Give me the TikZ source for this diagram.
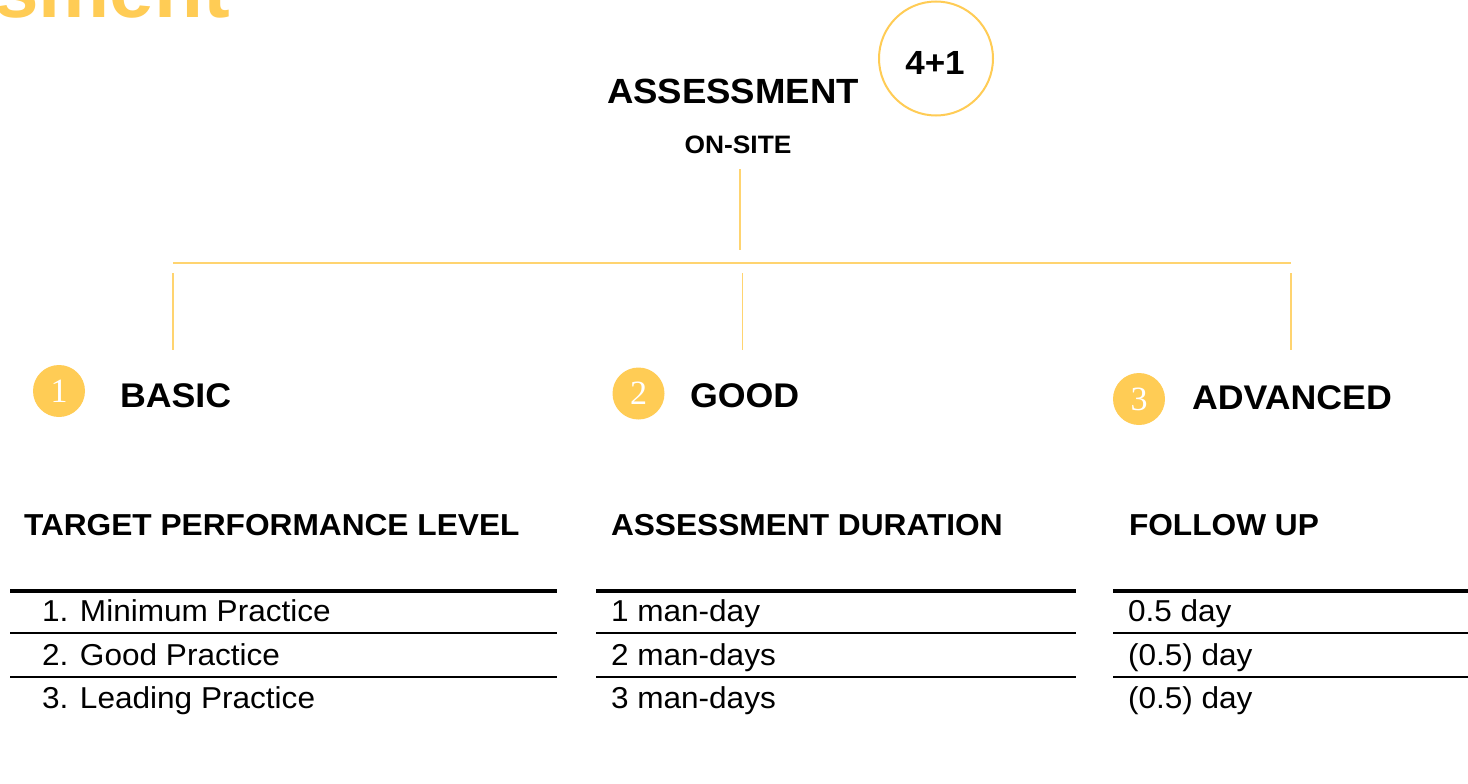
\documentclass[tikz,border=0pt]{standalone}
\usepackage{fontspec}
\setmainfont{Liberation Sans}[FakeStretch=1.045]
\newfontfamily\plainsans{Liberation Sans}
\newfontfamily\numserif{Liberation Serif}
\definecolor{gold}{HTML}{FFCC55}
\definecolor{linegold}{HTML}{FFD470}
\tikzset{
  txt/.style={inner sep=0pt, outer sep=0pt, text=black},
  bigtitle/.style={txt, text=gold, font=\plainsans\bfseries\fontsize{80}{90}\selectfont},
  mainlbl/.style={txt, font=\bfseries\fontsize{35}{42}\selectfont},
  badgelbl/.style={txt, font=\bfseries\fontsize{33.5}{40}\selectfont},
  sublbl/.style={txt, font=\bfseries\fontsize{25.2}{30}\selectfont},
  levellbl/.style={txt, font=\bfseries\fontsize{34.2}{40}\selectfont},
  hdrlbl/.style={txt, font=\bfseries\fontsize{30.3}{36}\selectfont},
  rowlbl/.style={txt, font=\fontsize{30.2}{36}\selectfont},
  numdot/.style={circle, fill=gold, minimum size=52pt, inner sep=0pt},
  numtxt/.style={txt, text=white, font=\numserif\fontsize{34}{34}\selectfont},
  conn/.style={draw=linegold, line width=1.5pt},
  rulethick/.style={draw=black, line width=3.5pt},
  rulethin/.style={draw=black, line width=2pt}
}
\begin{document}
\begin{tikzpicture}[x=1pt,y=-1pt]
\useasboundingbox (0,0) rectangle (1468,784);
\clip (0,0) rectangle (1468,784);
\fill[white] (0,0) rectangle (1468,784);

% cut-off title
\node[bigtitle, anchor=base east] (title) at (230,17.5) {Assessment};

% top
\node[mainlbl, anchor=base west] (assess) at (607,103) {ASSESSMENT};
\node[sublbl, anchor=base] (onsite) at (738,153) {ON-SITE};
\node[circle, draw=gold, line width=2pt, minimum size=114pt, inner sep=0pt] (badge) at (936,58.5) {};
\node[badgelbl] (badgetxt) at (935,62.5) {4+1};

% tree connectors
\coordinate (stemtop) at (740,169);
\coordinate (stembot) at (740,250);
\coordinate (barL) at (173,263);
\coordinate (barR) at (1291,263);
\coordinate (b1top) at (173,273);
\coordinate (b1bot) at (173,350);
\coordinate (b2top) at (742.5,273);
\coordinate (b2bot) at (742.5,350);
\coordinate (b3top) at (1291,273);
\coordinate (b3bot) at (1291,350);
\draw[conn] (stemtop) -- (stembot);
\draw[conn] (barL) -- (barR);
\draw[conn] (b1top) -- (b1bot);
\draw[conn] (b2top) -- (b2bot);
\draw[conn] (b3top) -- (b3bot);

% levels
\node[numdot] (n1) at (59,391) {};
\node[numtxt] (n1t) at (n1) {1};
\node[levellbl, anchor=base west] (basic) at (120,407.5) {BASIC};
\node[numdot] (n2) at (638.5,393.5) {};
\node[numtxt] (n2t) at (n2) {2};
\node[levellbl, anchor=base west] (good) at (690,407.5) {GOOD};
\node[numdot] (n3) at (1139,399) {};
\node[numtxt] (n3t) at (n3) {3};
\node[levellbl, anchor=base west] (adv) at (1192,409.5) {ADVANCED};

% headers
\node[hdrlbl, anchor=base west] (h1) at (24,535.5) {TARGET PERFORMANCE LEVEL};
\node[hdrlbl, anchor=base west] (h2) at (611,535.5) {ASSESSMENT DURATION};
\node[hdrlbl, anchor=base west] (h3) at (1129,535.5) {FOLLOW UP};

% table rules
\coordinate (L0a) at (10,591);   \coordinate (L0b) at (557,591);
\coordinate (L1a) at (10,633);   \coordinate (L1b) at (557,633);
\coordinate (L2a) at (10,677);   \coordinate (L2b) at (557,677);
\coordinate (M0a) at (596,591);  \coordinate (M0b) at (1076,591);
\coordinate (M1a) at (596,633);  \coordinate (M1b) at (1076,633);
\coordinate (M2a) at (596,677);  \coordinate (M2b) at (1076,677);
\coordinate (R0a) at (1113,591); \coordinate (R0b) at (1468,591);
\coordinate (R1a) at (1113,633); \coordinate (R1b) at (1468,633);
\coordinate (R2a) at (1113,677); \coordinate (R2b) at (1468,677);
\draw[rulethick] (L0a) -- (L0b);
\draw[rulethin] (L1a) -- (L1b);
\draw[rulethin] (L2a) -- (L2b);
\draw[rulethick] (M0a) -- (M0b);
\draw[rulethin] (M1a) -- (M1b);
\draw[rulethin] (M2a) -- (M2b);
\draw[rulethick] (R0a) -- (R0b);
\draw[rulethin] (R1a) -- (R1b);
\draw[rulethin] (R2a) -- (R2b);

% rows
\node[rowlbl, anchor=base west] (l1) at (42,621.5) {1. Minimum Practice};
\node[rowlbl, anchor=base west] (l2) at (42,665) {2. Good Practice};
\node[rowlbl, anchor=base west] (l3) at (42,708.5) {3. Leading Practice};
\node[rowlbl, anchor=base west] (m1) at (611,621.5) {1 man-day};
\node[rowlbl, anchor=base west] (m2) at (611,665) {2 man-days};
\node[rowlbl, anchor=base west] (m3) at (611,708.5) {3 man-days};
\node[rowlbl, anchor=base west] (r1) at (1128,621.5) {0.5 day};
\node[rowlbl, anchor=base west] (r2) at (1128,665) {(0.5) day};
\node[rowlbl, anchor=base west] (r3) at (1128,708.5) {(0.5) day};
\end{tikzpicture}
\end{document}
